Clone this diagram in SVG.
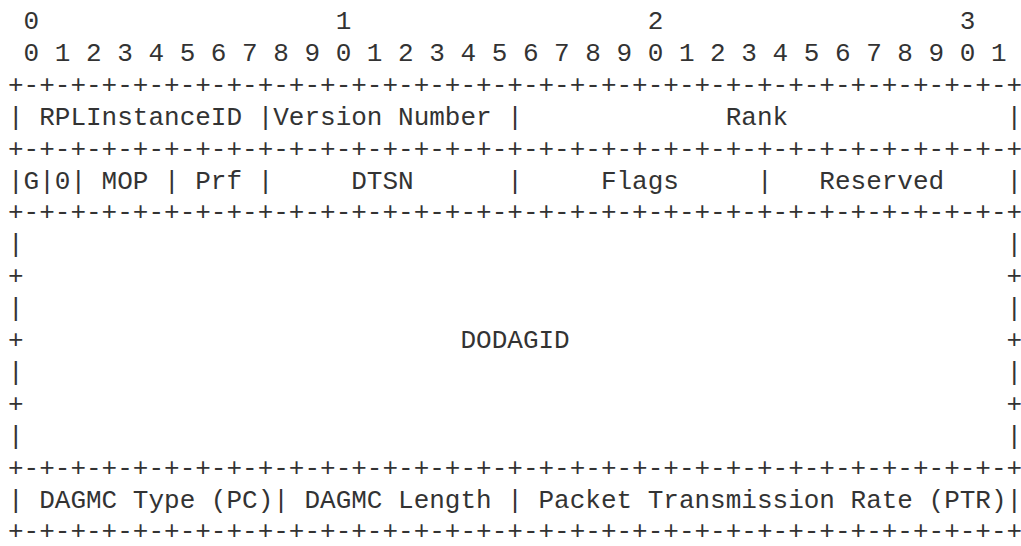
<svg xmlns="http://www.w3.org/2000/svg" width="1021" height="546" viewBox="0 0 1021 546">
<style>
text{font-family:"Liberation Mono","DejaVu Sans Mono",monospace;font-size:26px;fill:#333;white-space:pre}
</style>
<rect width="1021" height="546" fill="#fff"/>
<g id="ruler" xml:space="preserve">
<text x="8" y="29"> 0                   1                   2                   3</text>
<text x="8" y="61"> 0 1 2 3 4 5 6 7 8 9 0 1 2 3 4 5 6 7 8 9 0 1 2 3 4 5 6 7 8 9 0 1</text>
</g>
<g id="row1" xml:space="preserve">
<text x="8" y="92.8">+-+-+-+-+-+-+-+-+-+-+-+-+-+-+-+-+-+-+-+-+-+-+-+-+-+-+-+-+-+-+-+-+</text>
<text x="8" y="124.7">| RPLInstanceID |Version Number |             Rank              |</text>
</g>
<g id="row2" xml:space="preserve">
<text x="8" y="156.6">+-+-+-+-+-+-+-+-+-+-+-+-+-+-+-+-+-+-+-+-+-+-+-+-+-+-+-+-+-+-+-+-+</text>
<text x="8" y="188.5">|G|0| MOP | Prf |     DTSN      |     Flags     |   Reserved    |</text>
</g>
<g id="dodagid" xml:space="preserve">
<text x="8" y="220.4">+-+-+-+-+-+-+-+-+-+-+-+-+-+-+-+-+-+-+-+-+-+-+-+-+-+-+-+-+-+-+-+-+</text>
<text x="8" y="252.3">|                                                               |</text>
<text x="8" y="284.2">+                                                               +</text>
<text x="8" y="316.1">|                                                               |</text>
<text x="8" y="348">+                            DODAGID                            +</text>
<text x="8" y="379.9">|                                                               |</text>
<text x="8" y="411.8">+                                                               +</text>
<text x="8" y="443.7">|                                                               |</text>
</g>
<g id="row4" xml:space="preserve">
<text x="8" y="475.6">+-+-+-+-+-+-+-+-+-+-+-+-+-+-+-+-+-+-+-+-+-+-+-+-+-+-+-+-+-+-+-+-+</text>
<text x="8" y="507.5">| DAGMC Type (PC)| DAGMC Length | Packet Transmission Rate (PTR)|</text>
<text x="8" y="539.4">+-+-+-+-+-+-+-+-+-+-+-+-+-+-+-+-+-+-+-+-+-+-+-+-+-+-+-+-+-+-+-+-+</text>
</g>
<g id="connectors"/>
</svg>
